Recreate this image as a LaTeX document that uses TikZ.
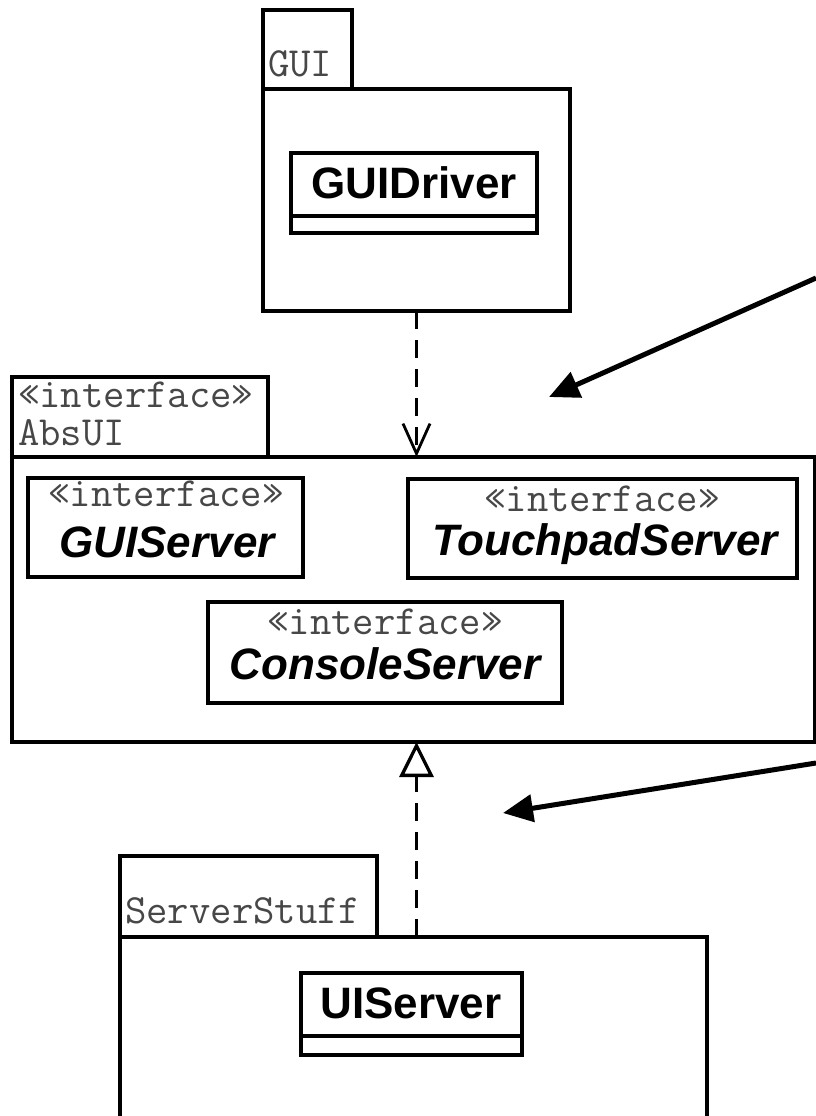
\documentclass[tikz,border=0pt]{standalone}
\usepackage{fontspec}
\setmainfont{Liberation Sans}
\usetikzlibrary{arrows.meta,calc}
\begin{document}
\begin{tikzpicture}[x=1pt,y=-1pt,
  box/.style={draw, line width=3.3pt, rectangle, inner sep=0pt, outer sep=0pt, anchor=north west},
  monotext/.style={inner sep=0pt, text=black!72, font=\ttfamily\fontsize{41.5}{45}\selectfont},
  clsname/.style={inner sep=0pt, anchor=base, font=\bfseries\fontsize{44}{48}\selectfont},
  ifname/.style={inner sep=0pt, anchor=base, font=\bfseries\itshape\fontsize{44}{48}\selectfont},
  dep/.style={line width=3.3pt, dash pattern=on 18pt off 11pt,
    -{Straight Barb[length=30pt, width=27pt, line width=2.8pt]}},
  real/.style={line width=3.3pt, dash pattern=on 18pt off 11pt,
    -{Triangle[open, length=35pt, width=34pt, line width=3.3pt]}},
  pointer/.style={line width=5pt, -{Triangle[length=30pt, width=27pt]}}
]
\useasboundingbox (0,0) rectangle (816,1116);

% GUI package
\node[box, minimum width=89, minimum height=79] (guitab) at (263,10) {};
\node[box, minimum width=307, minimum height=222] (guibody) at (263,89) {};
\node[monotext, anchor=base west] (guilbl) at (268,77) {GUI};
\node[box, minimum width=246, minimum height=80] (guidriver) at (291,153) {};
\draw[line width=3.3pt] ([yshift=17pt]guidriver.south west) -- ([yshift=17pt]guidriver.south east);
\node[clsname] (guidrivername) at (414,198) {GUIDriver};

% AbsUI package
\node[box, minimum width=256, minimum height=80] (abstab) at (12,377) {};
\node[box, minimum width=803, minimum height=285] (absbody) at (12,457) {};
\node[monotext, anchor=base west] (absster) at (18,407) {«interface»};
\node[monotext, anchor=base west] (abslbl) at (18,445) {AbsUI};

% GUIServer
\node[box, minimum width=275, minimum height=99] (guiserver) at (28,478) {};
\node[monotext, anchor=base] (guiserverster) at (166,506) {«interface»};
\node[ifname] (guiservername) at (167,557) {GUIServer};

% TouchpadServer
\node[box, minimum width=389, minimum height=99] (touch) at (408,479) {};
\node[monotext, anchor=base] (touchster) at (602,511) {«interface»};
\node[ifname] (touchname) at (605,555) {TouchpadServer};

% ConsoleServer
\node[box, minimum width=354, minimum height=101] (console) at (208,602) {};
\node[monotext, anchor=base] (consolester) at (385,634) {«interface»};
\node[ifname] (consolename) at (385,679) {ConsoleServer};

% ServerStuff package
\node[box, minimum width=257, minimum height=81] (sstab) at (120,856) {};
\node[box, minimum width=587, minimum height=200] (ssbody) at (120,937) {};
\node[monotext, anchor=base west] (sslbl) at (125,923) {ServerStuff};
\node[box, minimum width=221, minimum height=82] (uiserver) at (301,973) {};
\draw[line width=3.3pt] ([yshift=19pt]uiserver.south west) -- ([yshift=19pt]uiserver.south east);
\node[clsname] (uiservername) at (411,1018) {UIServer};

% connectors
\draw[dep] (guibody.south) -- (guibody.south |- absbody.north);
\draw[real] (guibody.south |- ssbody.north) -- (guibody.south |- absbody.south);

\coordinate (p1) at (816,278);
\coordinate (t1) at (549,397);
\draw[pointer] (p1) -- (t1);
\coordinate (p2) at (816,763);
\coordinate (t2) at (503,813);
\draw[pointer] (p2) -- (t2);
\end{tikzpicture}
\end{document}
